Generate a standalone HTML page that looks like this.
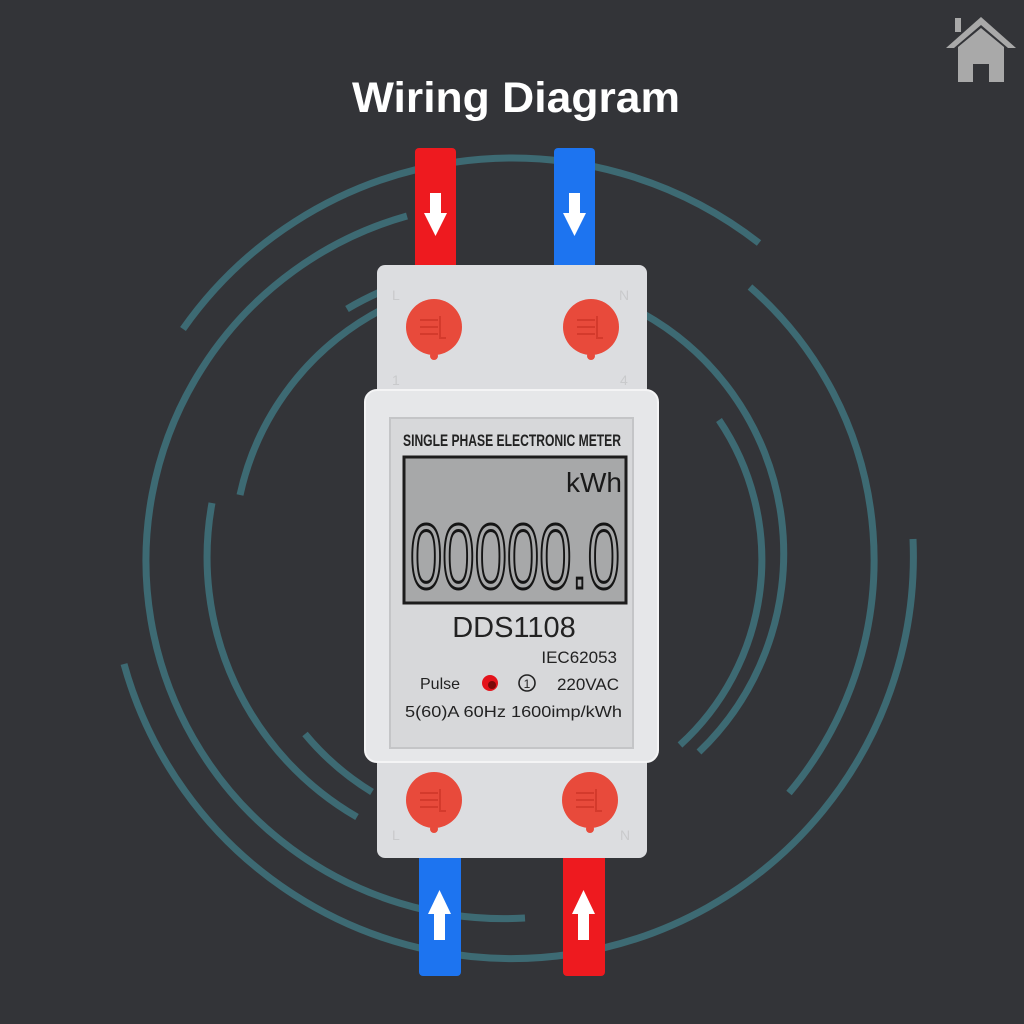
<!DOCTYPE html>
<html><head><meta charset="utf-8"><style>
html,body{margin:0;padding:0;background:#333438;}
svg{display:block}
</style></head><body>
<svg width="1024" height="1024" viewBox="0 0 1024 1024" xmlns="http://www.w3.org/2000/svg">
<rect width="1024" height="1024" fill="#333438"/>
<!-- house icon -->
<g fill="#a9a9a9">
<polygon points="981,17 946,48 954,48 981,25 1008,48 1016,48"/>
<rect x="955" y="18" width="6" height="14"/>
<polygon points="958,47 981,28 1004,47 1004,82 989,82 989,64 973,64 973,82 958,82"/>
</g>
<text x="516" y="112" text-anchor="middle" font-family="Liberation Sans, sans-serif" font-weight="bold" font-size="43" fill="#ffffff" textLength="328" lengthAdjust="spacingAndGlyphs">Wiring Diagram</text>
<!-- arcs -->
<g fill="none" stroke="#3d6a73" stroke-width="7">
<path d="M183,329 A402,402 0 0 1 759,243"/>
<path d="M913,539 A402,402 0 0 1 124,664"/>
<path d="M525,918 A358,358 0 0 1 407,216"/>
<path d="M750,287 A362,362 0 0 1 789,793"/>
<path d="M240,495 A275,275 0 1 1 699,752"/>
<path d="M719,420 A250,250 0 0 1 680,745"/>
<path d="M357,817 A300,300 0 0 1 212,503"/>
<path d="M305,734 A270,270 0 0 0 372,792"/>
<path d="M347,309 A300,300 0 0 1 380,292"/>
</g>
<!-- bars -->
<rect x="415" y="148" width="41" height="122" rx="4" fill="#ee1a1f"/>
<rect x="554" y="148" width="41" height="122" rx="4" fill="#1d74f0"/>
<rect x="419" y="852" width="42" height="124" rx="4" fill="#1d74f0"/>
<rect x="563" y="852" width="42" height="124" rx="4" fill="#ee1a1f"/>
<g fill="#ffffff">
<polygon points="430,193 441,193 441,213 447,213 435.5,236 424,213 430,213"/>
<polygon points="569,193 580,193 580,213 586,213 574.5,236 563,213 569,213"/>
<polygon points="434,940 445,940 445,914 451,914 439.5,890 428,914 434,914"/>
<polygon points="578,940 589,940 589,914 595,914 583.5,890 572,914 578,914"/>
</g>
<!-- meter -->
<rect x="377" y="265" width="270" height="135" rx="8" fill="#dcdde0"/>
<rect x="377" y="750" width="270" height="108" rx="8" fill="#dcdde0"/>
<rect x="365" y="390" width="293" height="372" rx="12" fill="#e6e7e9" stroke="#f4f4f5" stroke-width="2"/>
<rect x="390" y="418" width="243" height="330" fill="#d7d8da" stroke="#c4c5c7" stroke-width="2"/>
<g font-family="Liberation Sans, sans-serif" fill="#c9cacc" font-size="14">
<text x="392" y="300">L</text><text x="619" y="300">N</text>
<text x="392" y="385">1</text><text x="620" y="385">4</text>
<text x="392" y="840">L</text><text x="620" y="840">N</text>
</g>
<!-- screws -->
<g fill="#e84a3b">
<circle cx="434" cy="327" r="28"/><circle cx="434" cy="356" r="4"/>
<circle cx="591" cy="327" r="28"/><circle cx="591" cy="356" r="4"/>
<circle cx="434" cy="800" r="28"/><circle cx="434" cy="829" r="4"/>
<circle cx="590" cy="800" r="28"/><circle cx="590" cy="829" r="4"/>
</g>
<g fill="none" stroke="#d43a2c" stroke-width="2">
<path d="M420,320 h18 M420,327 h18 M420,334 h18 M440,316 v22 h6"/>
<path d="M577,320 h18 M577,327 h18 M577,334 h18 M597,316 v22 h6"/>
<path d="M420,793 h18 M420,800 h18 M420,807 h18 M440,789 v22 h6"/>
<path d="M576,793 h18 M576,800 h18 M576,807 h18 M596,789 v22 h6"/>
</g>
<text x="512" y="446" text-anchor="middle" font-family="Liberation Sans Narrow, Liberation Sans, sans-serif" font-weight="bold" font-size="17" fill="#222" textLength="218" lengthAdjust="spacingAndGlyphs">SINGLE PHASE ELECTRONIC METER</text>
<rect x="404" y="457" width="222" height="146" fill="#a7a8a9" stroke="#1c1c1c" stroke-width="3"/>
<text x="622" y="492" text-anchor="end" font-family="Liberation Sans, sans-serif" font-size="28" fill="#1a1a1a">kWh</text>
<text x="410" y="588" font-family="Liberation Sans Narrow, Liberation Sans, sans-serif" font-size="92" fill="none" stroke="#151515" stroke-width="3" textLength="210" lengthAdjust="spacingAndGlyphs">00000.0</text>
<text x="514" y="637" text-anchor="middle" font-family="Liberation Sans, sans-serif" font-size="29" fill="#222">DDS1108</text>
<text x="617" y="663" text-anchor="end" font-family="Liberation Sans, sans-serif" font-size="17" fill="#222">IEC62053</text>
<text x="420" y="689" font-family="Liberation Sans, sans-serif" font-size="16" fill="#222">Pulse</text>
<circle cx="490" cy="683" r="8" fill="#e4131b"/><circle cx="492" cy="685" r="4" fill="#7a0a0a"/>
<circle cx="527" cy="683" r="8" fill="none" stroke="#222" stroke-width="1.6"/>
<text x="527" y="688" text-anchor="middle" font-family="Liberation Sans, sans-serif" font-size="12" fill="#222">1</text>
<text x="619" y="690" text-anchor="end" font-family="Liberation Sans, sans-serif" font-size="17" fill="#222">220VAC</text>
<text x="405" y="717" font-family="Liberation Sans, sans-serif" font-size="16" fill="#222" textLength="217" lengthAdjust="spacingAndGlyphs">5(60)A 60Hz 1600imp/kWh</text>
</svg>
</body></html>
